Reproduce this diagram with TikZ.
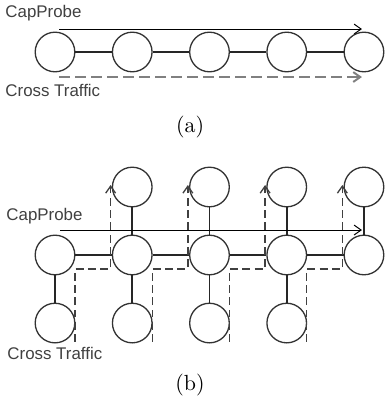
\documentclass[tikz,border=0pt]{standalone}
\usepackage{fontspec}
\newfontfamily\labelfont{Liberation Sans}
\usetikzlibrary{arrows.meta}
\begin{document}
\begin{tikzpicture}[x=1.2385cm,y=1.2385cm,
  >={Straight Barb[length=3.2pt,width=4.5pt]},
  hop/.style={circle,draw=black!80,line width=.6pt,minimum size=.635cm,inner sep=0pt},
  link/.style={draw=black!85,line width=.9pt},
  probe/.style={->,line width=.45pt},
  crossa/.style={->,draw=black!50,line width=.9pt,dash pattern=on 5pt off 2.3pt},
  crossb/.style={->,draw=black!75,line width=.6pt,dash pattern=on 3.6pt off 2pt},
  lbl/.style={font=\labelfont\fontsize{7.7}{9}\selectfont,text=black!75,anchor=west,inner sep=0pt}]
\useasboundingbox (-0.712,0) rectangle (4.285,5.243);
% (a) chain
\foreach \i in {0,...,4}\node[hop] (a\i) at (\i,4.57) {};
\foreach \i [count=\j] in {0,...,3}\draw[link] (a\i) -- (a\j);
\coordinate (pa0) at (0.052,4.867); \coordinate (pa1) at (3.974,4.867);
\coordinate (ca0) at (0.052,4.246); \coordinate (ca1) at (3.974,4.246);
\draw[probe] (pa0) -- (pa1);
\draw[crossa] (ca0) -- (ca1);
\node[lbl] (probeA) at (-0.647,5.074) {CapProbe};
\node[lbl] (crossA) at (-0.647,4.071) {Cross Traffic};
\node (capA) at (1.748,3.605) {(a)};
% (b) grid
\foreach \i in {1,...,4}\node[hop] (t\i) at (\i,2.822) {};
\foreach \i in {0,...,4}\node[hop] (m\i) at (\i,1.942) {};
\foreach \i in {0,...,3}\node[hop] (b\i) at (\i,1.061) {};
\foreach \i [count=\j] in {0,...,3}{
  \draw[link] (m\i) -- (m\j);
  \draw[link] (t\j) -- (m\j);
  \draw[link] (b\i) -- (m\i);
  \coordinate (cs\i) at (\i+0.259,0.816);
  \coordinate (ce\i) at (\j-0.28,2.848);
  \draw[crossb] (cs\i) -- (\i+0.259,1.761) -| (ce\i);
}
\coordinate (pb0) at (0.065,2.265); \coordinate (pb1) at (3.974,2.265);
\draw[probe] (pb0) -- (pb1);
\node[lbl] (probeB) at (-0.634,2.440) {CapProbe};
\node[lbl] (crossB) at (-0.621,0.667) {Cross Traffic};
\node (capB) at (1.748,0.259) {(b)};
\end{tikzpicture}
\end{document}
